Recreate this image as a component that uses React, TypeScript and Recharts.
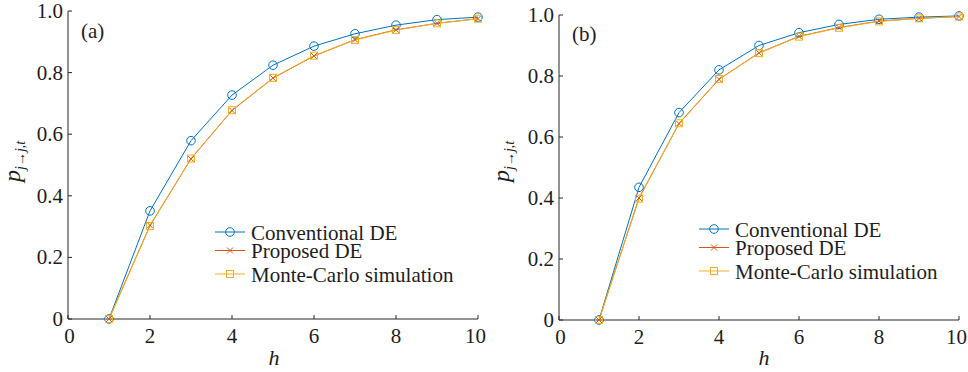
import React from 'react';
import { LineChart, Line, XAxis, YAxis } from 'recharts';

const hValues = [1, 2, 3, 4, 5, 6, 7, 8, 9, 10];
const convA = [0, 0.351, 0.579, 0.727, 0.824, 0.886, 0.926, 0.954, 0.972, 0.98];
const propA = [0, 0.304, 0.52, 0.677, 0.782, 0.854, 0.907, 0.939, 0.96, 0.975];
const mcA = [0, 0.302, 0.521, 0.678, 0.783, 0.855, 0.906, 0.938, 0.96, 0.975];
const convB = [0, 0.435, 0.68, 0.82, 0.9, 0.942, 0.969, 0.986, 0.993, 0.997];
const propB = [0, 0.4, 0.644, 0.789, 0.876, 0.93, 0.959, 0.98, 0.989, 0.995];
const mcB = [0, 0.398, 0.645, 0.79, 0.875, 0.929, 0.958, 0.979, 0.989, 0.995];
const xTicks = [0, 2, 4, 6, 8, 10];
const yTicks = [0, 0.2, 0.4, 0.6, 0.8, 1.0];
const seriesNames = ['Conventional DE', 'Proposed DE', 'Monte-Carlo simulation'];

const FONT = "'Liberation Serif', serif";
const AXIS = '#262626';
const TEXT = '#1e1e1e';
const BLUE = '#0072BD';
const ORANGE = '#D95319';
const YELLOW = '#EDB120';

const buildRows = (conv: number[], prop: number[], mc: number[]) =>
  hValues.map((h, i) => ({ h, conv: conv[i], prop: prop[i], mc: mc[i] }));

const fmtY = (v: number) => (v === 0 ? '0' : v.toFixed(1));
const txtStyle = { fontFamily: FONT };

const BottomTick = (props: any) => {
  const { x, y, payload } = props;
  const tx = payload.value === 10 ? x - 2.5 : payload.value === 0 ? x + 1.5 : x;
  return (
    <g>
      <line x1={x} y1={y} x2={x} y2={y - 4} stroke={AXIS} strokeWidth={1} />
      <text x={tx} y={y + 24} textAnchor="middle" fontSize={21} style={txtStyle} fill={TEXT}>
        {payload.value}
      </text>
    </g>
  );
};
const LeftTick = (props: any) => {
  const { x, y, payload } = props;
  return (
    <g>
      <line x1={x} y1={y} x2={x + 4} y2={y} stroke={AXIS} strokeWidth={1} />
      <text x={x - 5} y={y + 7} textAnchor="end" fontSize={21} style={txtStyle} fill={TEXT}>
        {fmtY(payload.value)}
      </text>
    </g>
  );
};
const TopTick = (props: any) => {
  const { x, y } = props;
  return <line x1={x} y1={y} x2={x} y2={y + 4} stroke={AXIS} strokeWidth={1} />;
};
const RightTick = (props: any) => {
  const { x, y } = props;
  return <line x1={x} y1={y} x2={x - 4} y2={y} stroke={AXIS} strokeWidth={1} />;
};

const circleDot = (p: any) => (
  <circle key={`c${p.index}`} cx={p.cx} cy={p.cy} r={4.3} fill="none" stroke={BLUE} strokeWidth={1} />
);
const crossDot = (p: any) => (
  <path
    key={`x${p.index}`}
    d={`M${p.cx - 3},${p.cy - 3}L${p.cx + 3},${p.cy + 3}M${p.cx - 3},${p.cy + 3}L${p.cx + 3},${p.cy - 3}`}
    stroke={ORANGE}
    strokeWidth={1}
    fill="none"
  />
);
const squareDot = (p: any) => (
  <rect key={`s${p.index}`} x={p.cx - 3.5} y={p.cy - 3.5} width={7} height={7} fill="none" stroke={YELLOW} strokeWidth={1} />
);

type PanelProps = {
  data: any[];
  left: number;
  width: number;
  margin: { top: number; right: number; left: number; bottom: number };
  yAxisWidth: number;
  xAxisHeight: number;
};

const Panel = ({ data, left, width, margin, yAxisWidth, xAxisHeight }: PanelProps) => (
  <div style={{ position: 'absolute', left, top: 0 }}>
    <LineChart width={width} height={372} data={data} margin={margin}>
      <XAxis
        xAxisId="b"
        dataKey="h"
        type="number"
        domain={[0, 10]}
        ticks={xTicks}
        orientation="bottom"
        height={xAxisHeight}
        tickSize={0}
        tickMargin={0}
        tickLine={false}
        axisLine={{ stroke: AXIS, strokeWidth: 1 }}
        tick={<BottomTick />}
        interval={0}
      />
      <XAxis
        xAxisId="t"
        dataKey="h"
        type="number"
        domain={[0, 10]}
        ticks={xTicks}
        orientation="top"
        height={0}
        tickSize={0}
        tickMargin={0}
        tickLine={false}
        axisLine={{ stroke: AXIS, strokeWidth: 1 }}
        tick={<TopTick />}
        interval={0}
      />
      <YAxis
        yAxisId="l"
        type="number"
        domain={[0, 1]}
        ticks={yTicks}
        orientation="left"
        width={yAxisWidth}
        tickSize={0}
        tickMargin={0}
        tickLine={false}
        axisLine={{ stroke: AXIS, strokeWidth: 1 }}
        tick={<LeftTick />}
        interval={0}
      />
      <YAxis
        yAxisId="r"
        type="number"
        domain={[0, 1]}
        ticks={yTicks}
        orientation="right"
        width={0}
        tickSize={0}
        tickMargin={0}
        tickLine={false}
        axisLine={{ stroke: AXIS, strokeWidth: 1 }}
        tick={<RightTick />}
        interval={0}
      />
      <Line xAxisId="b" yAxisId="l" type="linear" dataKey="conv" stroke={BLUE} strokeWidth={1} dot={circleDot} isAnimationActive={false} />
      <Line xAxisId="b" yAxisId="l" type="linear" dataKey="prop" stroke={ORANGE} strokeWidth={1} dot={crossDot} isAnimationActive={false} />
      <Line xAxisId="b" yAxisId="l" type="linear" dataKey="mc" stroke={YELLOW} strokeWidth={1} dot={squareDot} isAnimationActive={false} />
    </LineChart>
  </div>
);

const LegendRows = ({ lineX, textX, rows }: { lineX: number; textX: number; rows: number[] }) => {
  const colors = [BLUE, ORANGE, YELLOW];
  const mx = lineX + 15;
  return (
    <g>
      {rows.map((cy, i) => (
        <g key={i}>
          <line x1={lineX} y1={cy} x2={lineX + 30} y2={cy} stroke={colors[i]} strokeWidth={1} />
          {i === 0 && <circle cx={mx} cy={cy} r={4.3} fill="none" stroke={BLUE} strokeWidth={1} />}
          {i === 1 && (
            <path d={`M${mx - 3},${cy - 3}L${mx + 3},${cy + 3}M${mx - 3},${cy + 3}L${mx + 3},${cy - 3}`} stroke={ORANGE} strokeWidth={1} />
          )}
          {i === 2 && <rect x={mx - 3.5} y={cy - 3.5} width={7} height={7} fill="none" stroke={YELLOW} strokeWidth={1} />}
          <text x={textX} y={cy + 7.5} fontSize={21} style={txtStyle} fill={TEXT}>
            {seriesNames[i]}
          </text>
        </g>
      ))}
    </g>
  );
};

const YLabel = ({ x, y }: { x: number; y: number }) => (
  <text transform={`translate(${x},${y}) rotate(-90)`} style={txtStyle} fill={TEXT}>
    <tspan fontSize={24} fontStyle="italic">p</tspan>
    <tspan fontSize={14} fontStyle="italic" dy={5}>{'j\u2192j,t'}</tspan>
  </text>
);

export default function App() {
  const dataA = buildRows(convA, propA, mcA);
  const dataB = buildRows(convB, propB, mcB);
  return (
    <div style={{ position: 'absolute', left: 0, top: 0, width: 968, height: 372, background: '#fff', fontFamily: FONT }}>
      <Panel data={dataA} left={0} width={500} margin={{ top: 11, right: 22, left: 0, bottom: 0 }} yAxisWidth={68} xAxisHeight={53} />
      <Panel data={dataB} left={484} width={484} margin={{ top: 15, right: 9, left: 0, bottom: 0 }} yAxisWidth={75} xAxisHeight={52} />
      <svg width={968} height={372} style={{ position: 'absolute', left: 0, top: 0, pointerEvents: 'none' }}>
        <text x={81} y={38} fontSize={21} style={txtStyle} fill={TEXT}>(a)</text>
        <text x={572} y={41} fontSize={21} style={txtStyle} fill={TEXT}>(b)</text>
        <text x={274} y={365} textAnchor="middle" fontSize={22} fontStyle="italic" style={txtStyle} fill={TEXT}>h</text>
        <text x={764} y={365} textAnchor="middle" fontSize={22} fontStyle="italic" style={txtStyle} fill={TEXT}>h</text>
        <YLabel x={20} y={182} />
        <YLabel x={509} y={182} />
        <LegendRows lineX={215} textX={251} rows={[232, 250.5, 274]} />
        <LegendRows lineX={699} textX={735} rows={[229, 247.5, 271]} />
      </svg>
    </div>
  );
}
